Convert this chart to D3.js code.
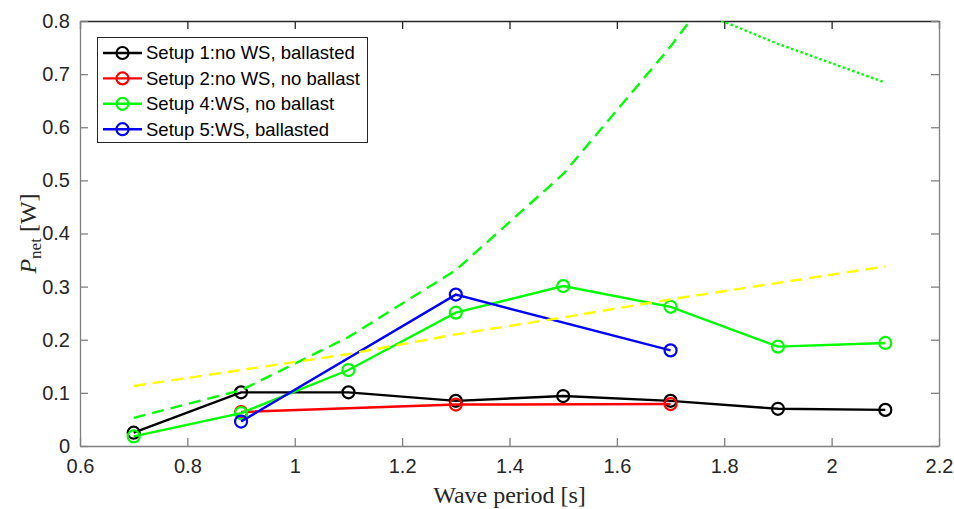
<!DOCTYPE html>
<html>
<head>
<meta charset="utf-8">
<script src="https://cdn.jsdelivr.net/npm/d3@7"></script>
<style>
  body { margin: 0; background: #fff; }
  svg { display: block; }
</style>
</head>
<body>
<div id="chart"></div>
<script>
// wave periods [s]
let periods = [0.7, 0.9, 1.1, 1.3, 1.5, 1.7, 1.9, 2.1];

// measured net power [W]
let setup1 = [0.025, 0.101, 0.101, 0.085, 0.094, 0.085, 0.070, 0.068];
let setup2Periods = [0.9, 1.3, 1.7];
let setup2 = [0.064, 0.078, 0.079];
let setup4 = [0.018, 0.062, 0.143, 0.251, 0.301, 0.262, 0.187, 0.194];
let setup5Periods = [0.9, 1.3, 1.7];
let setup5 = [0.046, 0.285, 0.180];

// reference curves
let greenDashed = [0.053, 0.105, 0.205, 0.331, 0.512, 0.752, 1.02, 1.35];
let dottedPeriods = [1.7, 1.9, 2.1];
let greenDotted = [0.84, 0.757, 0.684];
let yellowDashed = [0.113, 0.143, 0.173, 0.210, 0.242, 0.276, 0.307, 0.338];

let xTicks = [0.6, 0.8, 1, 1.2, 1.4, 1.6, 1.8, 2, 2.2];
let yTicks = [0, 0.1, 0.2, 0.3, 0.4, 0.5, 0.6, 0.7, 0.8];

let legendNames = ["Setup 1:no WS, ballasted", "Setup 2:no WS, no ballast",
                   "Setup 4:WS, no ballast", "Setup 5:WS, ballasted"];
let legendColors = ["#000000", "#ff0000", "#00ff00", "#0000ff"];

let width = 954, height = 509;
let mLeft = 80, mRight = 939, mTop = 21, mBottom = 446;

let x = d3.scaleLinear().domain([0.6, 2.2]).range([mLeft, mRight]);
let y = d3.scaleLinear().domain([0, 0.8]).range([mBottom, mTop]);

let svg = d3.select("#chart").append("svg")
  .attr("width", width)
  .attr("height", height);

svg.append("defs").append("clipPath").attr("id", "clip")
  .append("rect")
  .attr("x", mLeft).attr("y", mTop)
  .attr("width", mRight - mLeft).attr("height", mBottom - mTop);

let tickFont = "'Liberation Sans', Arial, Helvetica, sans-serif";
let fmt = d => String(d);

// axes (inward ticks, box on)
function styleAxis(g, col) {
  g.select(".domain").attr("stroke", col).attr("stroke-width", 1.3);
  g.selectAll(".tick line").attr("stroke", col).attr("stroke-width", 1.3);
  g.selectAll(".tick text")
    .attr("fill", "#262626")
    .style("font-family", tickFont)
    .style("font-size", "20px");
}

svg.append("g")
  .attr("transform", "translate(0," + mBottom + ")")
  .call(d3.axisBottom(x).tickValues(xTicks).tickFormat(fmt).tickSizeInner(-8).tickSizeOuter(0).tickPadding(13))
  .call(g => styleAxis(g, "#808080"));

svg.append("g")
  .attr("transform", "translate(0," + mTop + ")")
  .call(d3.axisTop(x).tickValues(xTicks).tickFormat("").tickSizeInner(-8).tickSizeOuter(0))
  .call(g => styleAxis(g, "#262626"));

svg.append("g")
  .attr("transform", "translate(" + mLeft + ",0)")
  .call(d3.axisLeft(y).tickValues(yTicks).tickFormat(fmt).tickSizeInner(-8).tickSizeOuter(0).tickPadding(10))
  .call(g => styleAxis(g, "#808080"));

svg.append("g")
  .attr("transform", "translate(" + mRight + ",0)")
  .call(d3.axisRight(y).tickValues(yTicks).tickFormat("").tickSizeInner(-8).tickSizeOuter(0))
  .call(g => styleAxis(g, "#808080"));

// series
let plot = svg.append("g").attr("clip-path", "url(#clip)");

let line = d3.line()
  .x(d => x(d[0]))
  .y(d => y(d[1]));

function series(xs, ys, color, dash, markers) {
  let pts = xs.map((p, i) => [p, ys[i]]);
  plot.append("path")
    .datum(pts)
    .attr("d", line)
    .attr("fill", "none")
    .attr("stroke", color)
    .attr("stroke-width", 2.4)
    .attr("stroke-dasharray", dash);
  if (markers) {
    plot.selectAll(null)
      .data(pts)
      .enter().append("circle")
      .attr("cx", d => x(d[0]))
      .attr("cy", d => y(d[1]))
      .attr("r", 6)
      .attr("fill", "none")
      .attr("stroke", color)
      .attr("stroke-width", 2.2);
  }
}

series(periods, setup1, "#000000", null, true);
series(setup2Periods, setup2, "#ff0000", null, true);
series(periods, setup4, "#00ff00", null, true);
series(setup5Periods, setup5, "#0000ff", null, true);
series(periods, greenDashed, "#00ff00", "12,7", false);
series(dottedPeriods, greenDotted, "#00ff00", "2.5,2.5", false);
series(periods, yellowDashed, "#ffff00", "12,7", false);

// legend
let lg = svg.append("g");
lg.append("rect")
  .attr("x", 97.5).attr("y", 37.5)
  .attr("width", 270).attr("height", 105)
  .attr("fill", "#fff")
  .attr("stroke", "#262626")
  .attr("stroke-width", 1);

let rows = lg.selectAll(".row")
  .data(legendNames)
  .enter().append("g")
  .attr("class", "row")
  .attr("transform", (d, i) => "translate(0," + (53 + i * 25.4) + ")");

rows.append("line")
  .attr("x1", 103).attr("x2", 142)
  .attr("stroke", (d, i) => legendColors[i])
  .attr("stroke-width", 2.4);

rows.append("circle")
  .attr("cx", 122.5).attr("r", 6)
  .attr("fill", "none")
  .attr("stroke", (d, i) => legendColors[i])
  .attr("stroke-width", 2.2);

rows.append("text")
  .attr("x", 146)
  .attr("dy", "0.35em")
  .attr("fill", "#000")
  .style("font-family", tickFont)
  .style("font-size", "18.5px")
  .text(d => d);

// axis labels
let serif = "'Liberation Serif', 'Times New Roman', serif";

svg.append("text")
  .attr("x", (mLeft + mRight) / 2)
  .attr("y", 503)
  .attr("text-anchor", "middle")
  .attr("fill", "#262626")
  .style("font-family", serif)
  .style("font-size", "24px")
  .text("Wave period [s]");

let yl = svg.append("text")
  .attr("transform", "translate(36," + ((mTop + mBottom) / 2) + ") rotate(-90)")
  .attr("text-anchor", "middle")
  .attr("fill", "#262626")
  .style("font-family", serif)
  .style("font-size", "24px");
yl.append("tspan").style("font-style", "italic").text("P");
yl.append("tspan").attr("dy", 5).style("font-size", "17px").text("net");
yl.append("tspan").attr("dy", -5).text(" [W]");
</script>
</body>
</html>
